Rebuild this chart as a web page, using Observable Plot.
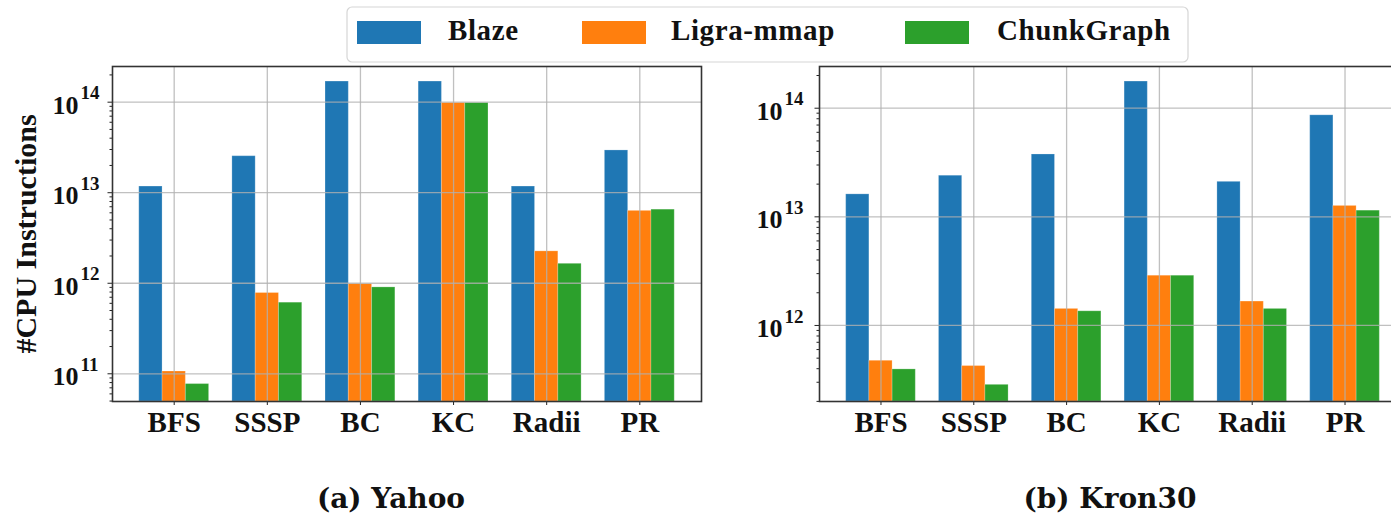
<!DOCTYPE html>
<html>
<head>
<meta charset="utf-8">
<script src="https://cdn.jsdelivr.net/npm/d3@7"></script>
<script src="https://cdn.jsdelivr.net/npm/@observablehq/plot@0.6"></script>
<style>
  html, body { margin: 0; padding: 0; background: #fff; overflow: hidden; }
  #wrap { position: relative; width: 1391px; height: 517px; overflow: hidden; background: #fff; }
  #wrap > svg, #wrap > div { position: absolute; }
  #overlay { left: 0; top: 0; pointer-events: none; }
</style>
</head>
<body>
<div id="wrap"></div>
<script>
// ---- data ----
const categories = ["BFS", "SSSP", "BC", "KC", "Radii", "PR"];
const series = ["Blaze", "Ligra-mmap", "ChunkGraph"];
const colors = ["#1f77b4", "#ff7f0e", "#2ca02c"];

const yahooBlaze = [1.17e13, 2.53e13, 1.69e14, 1.69e14, 1.17e13, 2.93e13];
const yahooLigra = [1.06e11, 7.8e11, 9.8e11, 9.8e13, 2.25e12, 6.3e12];
const yahooChunk = [7.7e10, 6.1e11, 9.0e11, 9.8e13, 1.64e12, 6.5e12];

const kronBlaze = [1.61e13, 2.39e13, 3.75e13, 1.76e14, 2.10e13, 8.6e13];
const kronLigra = [4.73e11, 4.23e11, 1.42e12, 2.87e12, 1.66e12, 1.26e13];
const kronChunk = [3.94e11, 2.84e11, 1.35e12, 2.87e12, 1.42e12, 1.14e13];

const yahooTicks = [1e11, 1e12, 1e13, 1e14];
const kronTicks = [1e12, 1e13, 1e14];

const captions = ["(a) Yahoo", "(b) Kron30"];
const yLabel = "#CPU Instructions";

// ---- helpers ----
const serif = "'Liberation Serif', 'Times New Roman', serif";
const xDomain = [-0.6625, 5.6625];
const barW = 0.25;

function rowsFor(seriesValues) {
  const rows = [];
  categories.forEach((c, i) => {
    seriesValues.forEach((vals, j) => {
      const center = i + (j - 1) * barW;
      rows.push({cat: c, series: series[j], x1: center - barW / 2, x2: center + barW / 2, value: vals[i]});
    });
  });
  return rows;
}

function minorTicks(domain) {
  const out = [];
  for (let e = Math.floor(Math.log10(domain[0])); e <= Math.ceil(Math.log10(domain[1])); e++) {
    for (let m = 2; m <= 9; m++) {
      const v = m * Math.pow(10, e);
      if (v >= domain[0] && v <= domain[1]) out.push(v);
    }
  }
  return out;
}

function panel({seriesValues, yDomain, ticks, width, marginLeft, marginRight, baseDx, supDx}) {
  const rows = rowsFor(seriesValues);
  const gridStyle = {stroke: "#b0b0b0", strokeWidth: 1.3, strokeOpacity: 0.8};
  return Plot.plot({
    width, height: 450,
    marginLeft, marginRight, marginTop: 66, marginBottom: 49,
    x: {domain: xDomain},
    y: {type: "log", domain: yDomain},
    color: {domain: series, range: colors},
    style: {fontFamily: serif, background: "transparent", overflow: "visible"},
    marks: [
      Plot.rectY(rows, {x1: "x1", x2: "x2", y1: yDomain[0], y2: "value", fill: "series",
        stroke: "white", strokeOpacity: 0.22, strokeWidth: 1}),
      Plot.ruleX(d3.range(categories.length), gridStyle),
      Plot.ruleY(ticks, gridStyle),
      Plot.axisY(minorTicks(yDomain), {tickSize: 2.5, tickFormat: () => "", label: null, stroke: "#222"}),
      Plot.axisY(ticks, {tickSize: 4.5, tickFormat: () => "", label: null, stroke: "#222"}),
      Plot.text(ticks, {x: xDomain[0], y: d => d, text: () => "10", textAnchor: "end",
        dx: baseDx, dy: 3, fontSize: 26, fontWeight: "bold", fill: "#111"}),
      Plot.text(ticks, {x: xDomain[0], y: d => d, text: d => String(Math.round(Math.log10(d))), textAnchor: "start",
        dx: supDx, dy: -9, fontSize: 19, fontWeight: "bold", fill: "#111"}),
      Plot.axisX(d3.range(categories.length), {tickFormat: i => categories[i], tickSize: 4, tickPadding: 6,
        fontSize: 29, fontWeight: "bold", label: null, stroke: "#222", fill: "#111"}),
      Plot.frame({stroke: "#333", strokeWidth: 1.6})
    ]
  });
}

const wrap = document.getElementById("wrap");

const left = panel({
  seriesValues: [yahooBlaze, yahooLigra, yahooChunk],
  yDomain: [Math.pow(10, 10.694), Math.pow(10, 14.394)],
  ticks: yahooTicks, width: 706, marginLeft: 112, marginRight: 5, baseDx: -34, supDx: -32
});
left.style.left = "0px"; left.style.top = "0px";
wrap.appendChild(left);

const right = panel({
  seriesValues: [kronBlaze, kronLigra, kronChunk],
  yDomain: [Math.pow(10, 11.30), Math.pow(10, 14.384)],
  ticks: kronTicks, width: 700, marginLeft: 113, marginRight: 0, baseDx: -37, supDx: -35
});
right.style.left = "706px"; right.style.top = "0px";
wrap.appendChild(right);

// ---- overlay: legend, y label, captions ----
const svg = d3.select(wrap).append("svg").attr("id", "overlay")
  .attr("width", 1391).attr("height", 517);

const lg = svg.append("g");
lg.append("rect").attr("x", 347).attr("y", 7).attr("width", 841).attr("height", 55)
  .attr("rx", 5).attr("fill", "white").attr("fill-opacity", 0.9)
  .attr("stroke", "#d6d6d6").attr("stroke-width", 1.2);
const swatchX = [357, 582, 905];
const textX = [448, 671, 997];
series.forEach((s, i) => {
  lg.append("rect").attr("x", swatchX[i]).attr("y", 21).attr("width", 64).attr("height", 23)
    .attr("fill", colors[i]);
  lg.append("text").attr("x", textX[i]).attr("y", 40).text(s)
    .attr("font-family", serif).attr("font-weight", "bold").attr("font-size", 29)
    .attr("letter-spacing", 0.6).attr("fill", "#111");
});

svg.append("text").attr("transform", "translate(36,234) rotate(-90)")
  .attr("text-anchor", "middle").text(yLabel)
  .attr("font-family", serif).attr("font-weight", "bold").attr("font-size", 30).attr("fill", "#111");

const capX = [391, 1110];
captions.forEach((c, i) => {
  svg.append("text").attr("x", capX[i]).attr("y", 508).attr("text-anchor", "middle").text(c)
    .attr("font-family", "'DejaVu Serif', serif").attr("font-weight", "bold").attr("font-size", 28)
    .attr("fill", "#111");
});
</script>
</body>
</html>
